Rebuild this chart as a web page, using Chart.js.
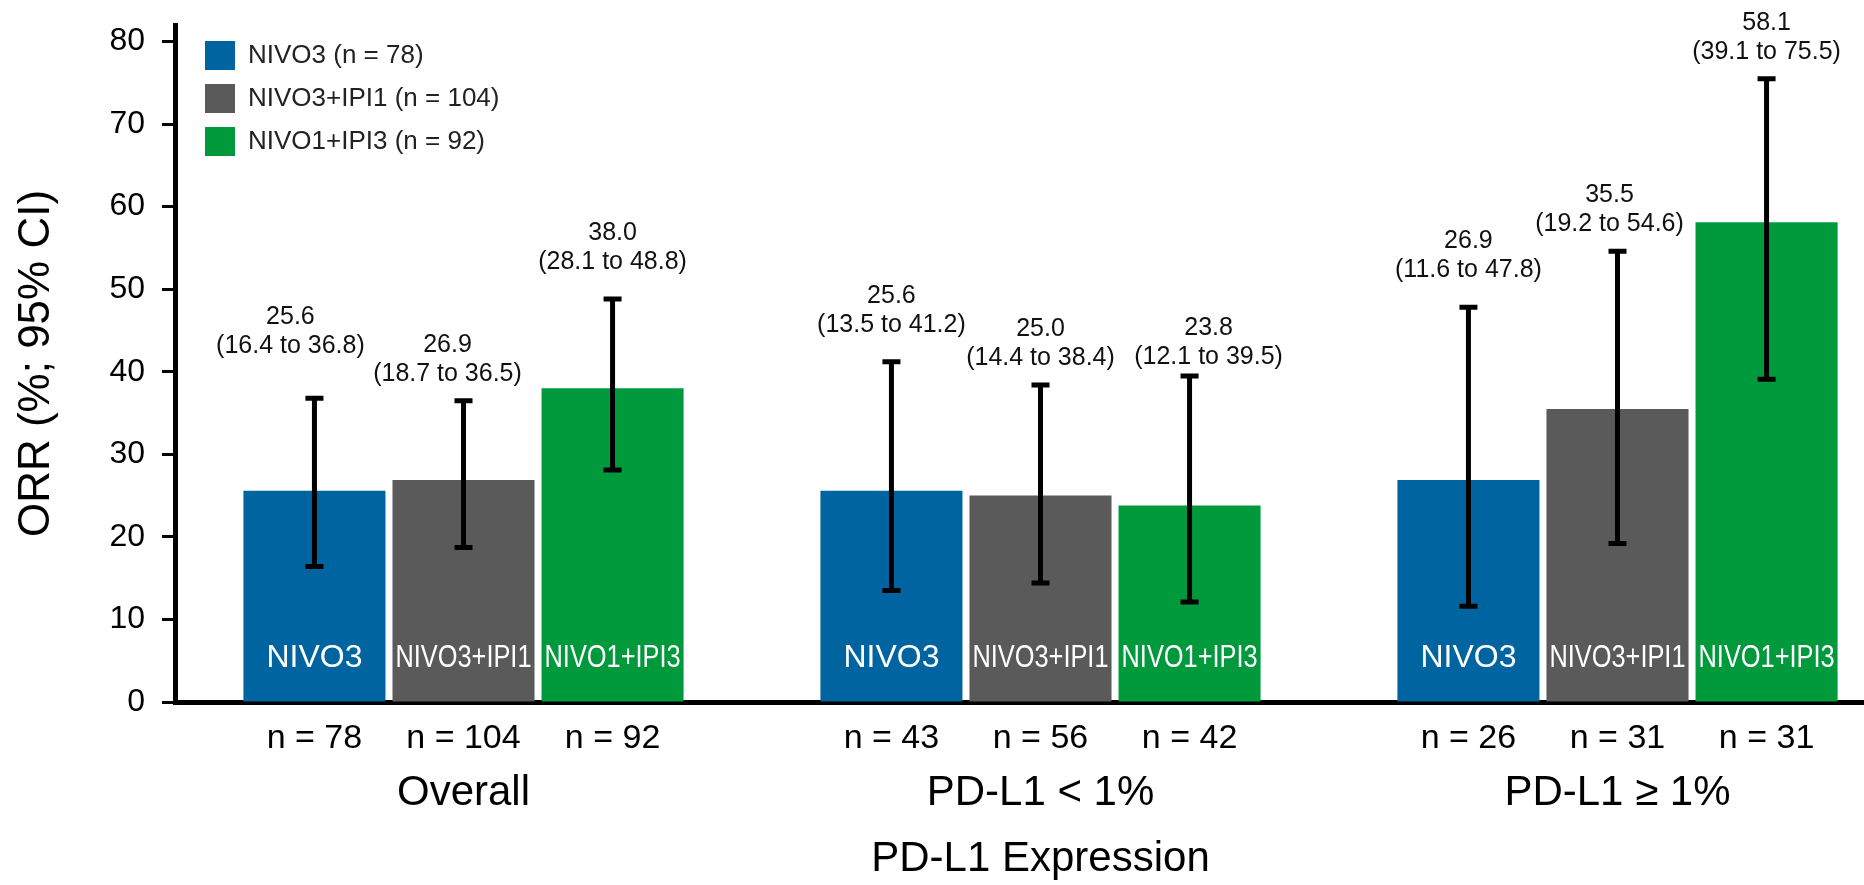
<!DOCTYPE html>
<html>
<head>
<meta charset="utf-8">
<script src="https://cdn.jsdelivr.net/npm/chart.js@4"></script>
<style>
  html, body { margin: 0; padding: 0; background: #fff; }
  #wrap { width: 1864px; height: 885px; overflow: hidden; }
</style>
</head>
<body>
<div id="wrap"><canvas id="orrChart" width="1906" height="885"></canvas></div>
<script>
// Groups on the x axis
const groups = ['Overall', 'PD-L1 < 1%', 'PD-L1 \u2265 1%'];

// Treatment arms
const armNames = ['NIVO3', 'NIVO3+IPI1', 'NIVO1+IPI3'];
const armTotals = [78, 104, 92];

// ORR (%) with 95% CI, per arm, per group
const orrNivo3 = [25.6, 25.6, 26.9];
const lowNivo3 = [16.4, 13.5, 11.6];
const highNivo3 = [36.8, 41.2, 47.8];
const nNivo3 = [78, 43, 26];

const orrNivo3Ipi1 = [26.9, 25.0, 35.5];
const lowNivo3Ipi1 = [18.7, 14.4, 19.2];
const highNivo3Ipi1 = [36.5, 38.4, 54.6];
const nNivo3Ipi1 = [104, 56, 31];

const orrNivo1Ipi3 = [38.0, 23.8, 58.1];
const lowNivo1Ipi3 = [28.1, 12.1, 39.1];
const highNivo1Ipi3 = [48.8, 39.5, 75.5];
const nNivo1Ipi3 = [92, 42, 31];

const yTicks = [0, 10, 20, 30, 40, 50, 60, 70, 80];

const armColors = ['#0064a0', '#5a5a5a', '#009a3d'];
const fontFamily = '"Liberation Sans", Arial, sans-serif';

// small hand nudges (px) so the value labels don't collide, per arm / group
const labelNudge = [
    [[-24, -25], [0, -10], [0, -10]],
    [[-16, 0], [0, 0], [-8, 0]],
    [[0, -10], [19, 8], [0, 0]]
];

const orrs = [orrNivo3, orrNivo3Ipi1, orrNivo1Ipi3];
const lows = [lowNivo3, lowNivo3Ipi1, lowNivo1Ipi3];
const highs = [highNivo3, highNivo3Ipi1, highNivo1Ipi3];
const ns = [nNivo3, nNivo3Ipi1, nNivo1Ipi3];

// Error bars, value labels, n labels and names inside the bars
const barExtras = {
    id: 'barExtras',
    afterDatasetsDraw(chart) {
        const ctx = chart.ctx;
        const y = chart.scales.y;
        const zero = y.getPixelForValue(0);
        ctx.save();
        chart.data.datasets.forEach((ds, i) => {
            const meta = chart.getDatasetMeta(i);
            meta.data.forEach((bar, j) => {
                const x = bar.x;
                const yLow = y.getPixelForValue(lows[i][j]);
                const yHigh = y.getPixelForValue(highs[i][j]);

                // whisker
                ctx.strokeStyle = '#000';
                ctx.lineWidth = 5;
                ctx.lineCap = 'butt';
                ctx.beginPath();
                ctx.moveTo(x, yLow);
                ctx.lineTo(x, yHigh);
                ctx.moveTo(x - 9, yLow);
                ctx.lineTo(x + 9, yLow);
                ctx.moveTo(x - 9, yHigh);
                ctx.lineTo(x + 9, yHigh);
                ctx.stroke();

                // value + CI above the whisker
                const [dx, dy] = labelNudge[i][j];
                ctx.fillStyle = '#111';
                ctx.textAlign = 'center';
                ctx.textBaseline = 'alphabetic';
                ctx.font = '25px ' + fontFamily;
                ctx.fillText(orrs[i][j].toFixed(1), x + dx, yHigh - 49 + dy);
                ctx.fillText('(' + lows[i][j].toFixed(1) + ' to ' + highs[i][j].toFixed(1) + ')', x + dx, yHigh - 20 + dy);

                // arm name inside the bar, squeezed like a condensed face
                ctx.fillStyle = '#fff';
                ctx.font = '32px ' + fontFamily;
                ctx.fillText(armNames[i], x, zero - 35, bar.width - 6);

                // n below the axis
                ctx.fillStyle = '#000';
                ctx.font = '34px ' + fontFamily;
                ctx.fillText('n = ' + ns[i][j], x, zero + 46);
            });
        });
        ctx.restore();
    }
};

// put the legend inside the plot, near the top left corner
const legendNudge = {
    id: 'legendNudge',
    afterLayout(chart) {
        chart.legend.left = chart.chartArea.left + 16;
        chart.legend.top = chart.chartArea.top + 2;
    }
};

const ctx = document.getElementById('orrChart').getContext('2d');

const chart = new Chart(ctx, {
    type: 'bar',
    data: {
        labels: groups,
        datasets: armNames.map((name, i) => ({
            label: name + ' (n = ' + armTotals[i] + ')',
            data: orrs[i],
            backgroundColor: armColors[i],
            borderWidth: 0,
            categoryPercentage: 0.775,
            barPercentage: 0.953
        }))
    },
    options: {
        responsive: false,
        animation: false,
        layout: { padding: { top: 25, left: 0, right: 0, bottom: 0 } },
        scales: {
            x: {
                grid: { display: false, drawTicks: false },
                border: { color: '#000', width: 5 },
                ticks: {
                    color: '#000',
                    font: { family: fontFamily, size: 42 },
                    padding: 66
                },
                title: {
                    display: true,
                    text: 'PD-L1 Expression',
                    color: '#000',
                    font: { family: fontFamily, size: 42 },
                    padding: { top: 0, bottom: 0 }
                },
                afterFit: s => {
                    s.height = 183;
                    s.paddingLeft = 0;
                    s.paddingRight = 0;
                }
            },
            y: {
                min: 0,
                max: 82,
                afterBuildTicks: s => { s.ticks = yTicks.map(v => ({ value: v })); },
                ticks: {
                    color: '#000',
                    font: { family: fontFamily, size: 32 },
                    padding: 17
                },
                grid: {
                    drawOnChartArea: false,
                    tickLength: 13,
                    tickWidth: 3,
                    tickColor: '#000'
                },
                border: { color: '#000', width: 5 },
                title: {
                    display: true,
                    text: 'ORR (%; 95% CI)',
                    color: '#000',
                    font: { family: fontFamily, size: 44 },
                    padding: { top: 10, bottom: 0 }
                },
                afterFit: s => {
                    s.width = 175;
                    s.paddingTop = 0;
                    s.paddingBottom = 0;
                }
            }
        },
        plugins: {
            legend: {
                position: 'chartArea',
                align: 'start',
                labels: {
                    boxWidth: 30,
                    boxHeight: 29,
                    padding: 14,
                    color: '#222',
                    font: { family: fontFamily, size: 26 }
                }
            },
            tooltip: { enabled: false }
        }
    },
    plugins: [barExtras, legendNudge]
});
</script>
</body>
</html>
